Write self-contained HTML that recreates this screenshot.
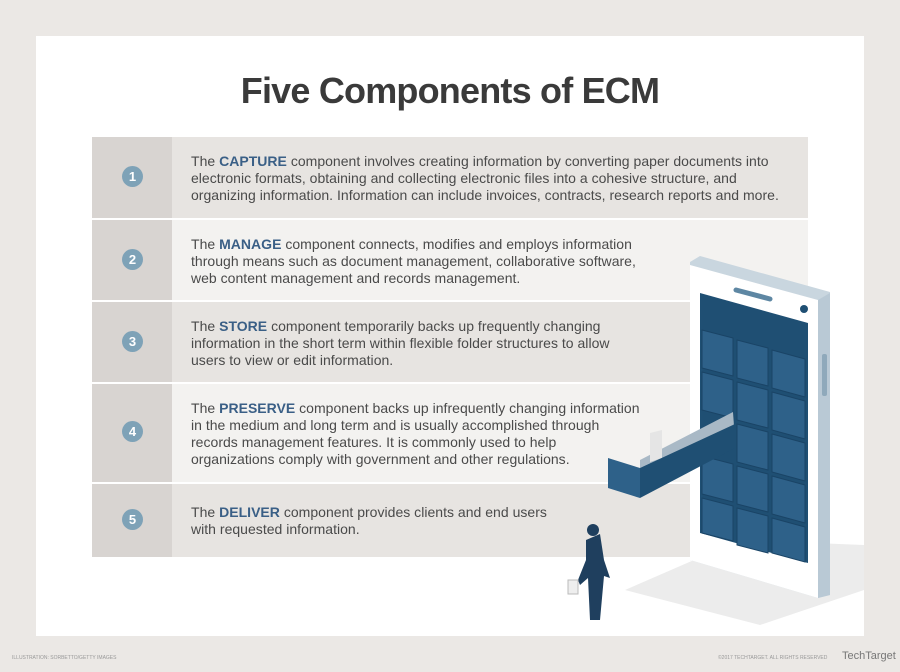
<!DOCTYPE html>
<html><head><style>
body{margin:0;width:900px;height:672px;background:#ebe8e5;position:relative;overflow:hidden;font-family:"Liberation Sans",sans-serif}
.card{position:absolute;left:36px;top:36px;width:828px;height:600px;background:#fff}
h1{position:absolute;left:0;width:900px;top:70px;margin:0;text-align:center;font-size:36px;font-weight:bold;color:#3a3a3a;letter-spacing:-0.8px}
.row{position:absolute;left:92px}
.num{position:absolute;left:0;top:0;width:80px;height:100%;background:#d8d4d1}
.circ{position:absolute;left:30px;width:21px;height:21px;border-radius:50%;background:#7ea2b7;color:#fff;font-weight:bold;font-size:13px;text-align:center;line-height:21px}
.txt{position:absolute;left:99px;font-size:14px;line-height:17px;color:#4a4a4a;white-space:nowrap;letter-spacing:0.02px}
.txt b{color:#3a5f86}
.sm{position:absolute;font-size:5px;color:#999;top:655px}
</style></head><body>
<div class="card"></div>
<h1>Five Components of ECM</h1>
<div class="row" style="top:137px;height:81px;width:716px;background:#e7e4e1"><div class="num"></div><div class="circ" style="top:29px">1</div><div class="txt" style="top:16px">The <b>CAPTURE</b> component involves creating information by converting paper documents into<br>electronic formats, obtaining and collecting electronic files into a cohesive structure, and<br>organizing information. Information can include invoices, contracts, research reports and more.</div></div>
<div class="row" style="top:220px;height:80px;width:716px;background:#f3f2f0"><div class="num"></div><div class="circ" style="top:29px">2</div><div class="txt" style="top:16px">The <b>MANAGE</b> component connects, modifies and employs information<br>through means such as document management, collaborative software,<br>web content management and records management.</div></div>
<div class="row" style="top:302px;height:80px;width:598px;background:#e7e4e1"><div class="num"></div><div class="circ" style="top:29px">3</div><div class="txt" style="top:16px">The <b>STORE</b> component temporarily backs up frequently changing<br>information in the short term within flexible folder structures to allow<br>users to view or edit information.</div></div>
<div class="row" style="top:384px;height:98px;width:598px;background:#f3f2f0"><div class="num"></div><div class="circ" style="top:37px">4</div><div class="txt" style="top:16px">The <b>PRESERVE</b> component backs up infrequently changing information<br>in the medium and long term and is usually accomplished through<br>records management features. It is commonly used to help<br>organizations comply with government and other regulations.</div></div>
<div class="row" style="top:484px;height:73px;width:598px;background:#e7e4e1"><div class="num"></div><div class="circ" style="top:25px">5</div><div class="txt" style="top:20px">The <b>DELIVER</b> component provides clients and end users<br>with requested information.</div></div>
<svg style="position:absolute;left:0;top:0" width="900" height="672">
<polygon points="625,590 740,540 864,545 864,590 760,625" fill="#ececec"/>
<polygon points="690,262 700,256 830,292 830,595 818,598 690,560" fill="#c9d6df"/>
<polygon points="690,265 818,300 818,598 690,560" fill="#fff"/>
<polygon points="818,300 830,293 830,595 818,598" fill="#b9c9d5"/>
<polygon points="700,293 808,323 808,563 700,533" fill="#1f4f73"/>
<line x1="736" y1="290" x2="770" y2="299" stroke="#5e87a3" stroke-width="5" stroke-linecap="round"/>
<circle cx="804" cy="309" r="4" fill="#1f4f73"/>
<rect x="822" y="354" width="5" height="42" rx="2" fill="#8fa9bb"/>
<g fill="#2e6189" stroke="#1a4466" stroke-width="1">
<polygon points="702,330 733,338 733,376 702,368"/><polygon points="737,340 768,348 768,386 737,378"/><polygon points="772,350 805,359 805,397 772,388"/>
<polygon points="702,372 733,380 733,418 702,410"/><polygon points="737,382 768,390 768,428 737,420"/><polygon points="772,392 805,401 805,439 772,430"/>
<polygon points="737,424 768,432 768,470 737,462"/><polygon points="772,434 805,443 805,481 772,472"/>
<polygon points="702,456 733,464 733,502 702,494"/><polygon points="737,466 768,474 768,512 737,504"/><polygon points="772,476 805,485 805,523 772,514"/>
<polygon points="702,498 733,506 733,541 702,533"/><polygon points="737,508 768,516 768,553 737,545"/><polygon points="772,518 805,527 805,562 772,553"/>
</g>
<polygon points="640,460 733,412 735,440 640,490" fill="#a9b9c6"/>
<polygon points="650,433 662,430 662,458 650,462" fill="#e5e5e5"/>
<polygon points="608,458 640,468 640,498 608,488" fill="#2e6189"/>
<polygon points="640,468 735,424 735,448 640,498" fill="#1f4f73"/>
<polygon points="586,540 600,534 604,560 610,578 604,576 600,620 590,620 588,578 580,585 578,580 586,560" fill="#1f3f5e"/>
<circle cx="593" cy="530" r="6" fill="#1f3f5e"/>
<rect x="568" y="580" width="10" height="14" fill="#eee" stroke="#bbb"/>
</svg>
<div class="sm" style="left:12px">ILLUSTRATION: SORBETTO/GETTY IMAGES</div>
<div class="sm" style="left:718px">©2017 TECHTARGET. ALL RIGHTS RESERVED</div>
<div style="position:absolute;left:842px;top:650px;font-size:11px;color:#777">TechTarget</div>
</body></html>
